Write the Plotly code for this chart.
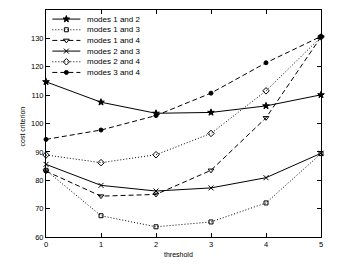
import plotly.graph_objects as go

threshold = [0, 1, 2, 3, 4, 5]
modes_1_2 = [114.7, 107.5, 103.6, 103.9, 106.2, 110.1]
modes_1_3 = [83.5, 67.5, 63.6, 65.3, 72.0, 89.4]
modes_1_4 = [83.2, 74.4, 75.0, 83.5, 102.0, 130.5]
modes_2_3 = [85.6, 78.2, 76.2, 77.3, 80.9, 89.5]
modes_2_4 = [88.9, 86.2, 89.0, 96.5, 111.5, 130.5]
modes_3_4 = [94.4, 97.7, 102.8, 110.7, 121.4, 130.7]
y_ticks = [60, 70, 80, 90, 100, 110, 120, 130, 140]

DOT = "1px,2px"
DASH = "5px,3px"
series = [
    ("modes 1 and 2", modes_1_2, "solid", "star", 5),
    ("modes 1 and 3", modes_1_3, DOT, "square-open", 4),
    ("modes 1 and 4", modes_1_4, DASH, "triangle-down-open", 5),
    ("modes 2 and 3", modes_2_3, "solid", "x-thin-open", 5),
    ("modes 2 and 4", modes_2_4, DOT, "diamond-open", 5),
    ("modes 3 and 4", modes_3_4, DASH, "circle", 4),
]

FONT = "Liberation Sans, Arial"
fig = go.Figure()
for name, ys, dash, sym, msize in series:
    fig.add_trace(go.Scatter(
        x=threshold, y=ys, name=name, mode="lines+markers",
        line=dict(color="black", dash=dash, width=1),
        marker=dict(symbol=sym, size=msize, color="black",
                    line=dict(color="black", width=1)),
        cliponaxis=False, showlegend=False,
    ))

# compact legend drawn on an overlay axis in [0,1] units
leg_y = [0.960, 0.913, 0.866, 0.819, 0.772, 0.725]
for (name, ys, dash, sym, msize), ly in zip(series, leg_y):
    fig.add_trace(go.Scatter(
        x=[0.023, 0.074, 0.125], y=[ly, ly, ly], mode="lines",
        line=dict(color="black", dash=dash, width=1),
        xaxis="x2", yaxis="y2", showlegend=False, hoverinfo="skip",
    ))
    fig.add_trace(go.Scatter(
        x=[0.074], y=[ly], mode="markers",
        marker=dict(symbol=sym, size=msize, color="black",
                    line=dict(color="black", width=1)),
        xaxis="x2", yaxis="y2", showlegend=False, hoverinfo="skip",
    ))
    fig.add_annotation(x=0.143, y=ly, xref="x2", yref="y2", text=name,
                       showarrow=False, xanchor="left", yanchor="middle",
                       font=dict(family=FONT, size=8, color="black"))

# axis titles
fig.add_annotation(x=0.483, y=0, xref="paper", yref="paper", text="threshold",
                   showarrow=False, xanchor="center", yanchor="middle", yshift=-17,
                   font=dict(family=FONT, size=7, color="black"))
fig.add_annotation(x=0, y=0.5, xref="paper", yref="paper", text="cost criterion",
                   showarrow=False, xanchor="center", yanchor="middle", xshift=-24,
                   yshift=-3, textangle=-90,
                   font=dict(family=FONT, size=7, color="black"))

axis_common = dict(
    showgrid=False, zeroline=False, showline=True, linecolor="black",
    linewidth=1, mirror="ticks", ticks="inside", ticklen=4, tickcolor="black",
    tickfont=dict(family=FONT, size=7.5, color="black"), automargin=False,
)

fig.update_layout(
    width=342, height=256,
    margin=dict(l=38, r=29, t=2, b=27),
    plot_bgcolor="white", paper_bgcolor="white",
    font=dict(family=FONT, size=8, color="black"),
    xaxis=dict(range=[0, 5], tickvals=threshold, **axis_common),
    yaxis=dict(range=[60, 140], tickvals=y_ticks, **axis_common),
    xaxis2=dict(overlaying="x", range=[0, 1], visible=False, fixedrange=True),
    yaxis2=dict(overlaying="y", range=[0, 1], visible=False, fixedrange=True),
    showlegend=False,
)

fig.write_html("out.html")
